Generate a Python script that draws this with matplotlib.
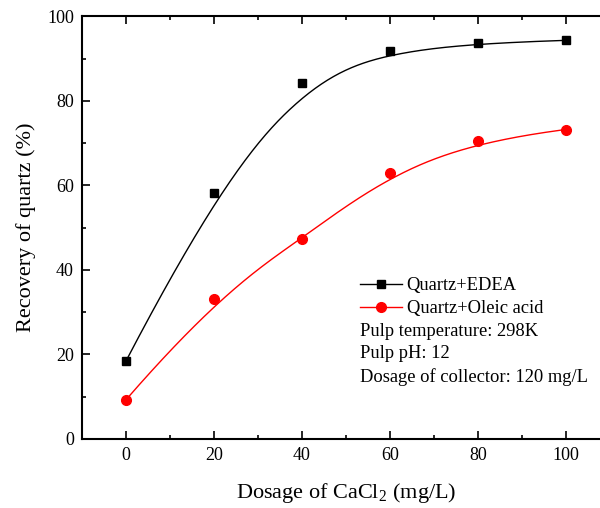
import numpy as np
import matplotlib
matplotlib.use('Agg')
import matplotlib.pyplot as plt
from matplotlib.ticker import MultipleLocator

plt.rcParams['font.family'] = ['Liberation Serif', 'DejaVu Serif']
plt.rcParams['mathtext.fontset'] = 'custom'
plt.rcParams['mathtext.rm'] = 'Liberation Serif'

dosage = [0, 20, 40, 60, 80, 100]
edea = [18.5, 58.3, 84.2, 91.8, 93.6, 94.3]
oleic = [9.3, 33.2, 47.3, 63.0, 70.5, 73.2]


## clamped cubic B-spline through the data points used as control points
def bspline(px, py, n=300, k=3):
    P = np.column_stack([px, py]).astype(float)
    m = len(P)
    inner = np.linspace(0, 1, m - k + 1)[1:-1]
    t = np.concatenate([np.zeros(k + 1), inner, np.ones(k + 1)])
    u = np.linspace(0, 1, n)
    u[-1] = 1 - 1e-9
    N = np.zeros((n, len(t) - 1))
    for i in range(len(t) - 1):
        N[:, i] = (t[i] <= u) & (u < t[i + 1])
    for d in range(1, k + 1):
        Nn = np.zeros((n, len(t) - 1 - d))
        for i in range(len(t) - 1 - d):
            a = 0.0
            if t[i + d] > t[i]:
                a = (u - t[i]) / (t[i + d] - t[i]) * N[:, i]
            b = 0.0
            if t[i + d + 1] > t[i + 1]:
                b = (t[i + d + 1] - u) / (t[i + d + 1] - t[i + 1]) * N[:, i + 1]
            Nn[:, i] = a + b
        N = Nn
    C = N @ P
    return C[:, 0], C[:, 1]


fig = plt.figure(figsize=(6, 5.08), dpi=100)
ax = fig.add_axes([0.137, 0.136, 0.879, 0.832])

bx, by = bspline(dosage, edea)
ax.plot(bx, by, color='black', lw=1)
rx, ry = bspline(dosage, oleic)
ax.plot(rx, ry, color='red', lw=1)
ax.plot(dosage, edea, 's', color='black', ms=6.3, lw=0)
ax.plot(dosage, oleic, 'o', color='red', ms=7, lw=0)

# legend handles
h1, = ax.plot([], [], '-s', color='black', ms=6.3, lw=1)
h2, = ax.plot([], [], '-o', color='red', ms=7, lw=1)
ax.legend([h1, h2], ['Quartz+EDEA', 'Quartz+Oleic acid'], loc='upper left',
          bbox_to_anchor=(0.527, 0.382), frameon=False, fontsize=13.3,
          handlelength=2.27, handletextpad=0.25, borderpad=0, labelspacing=0.3,
          borderaxespad=0)

notes = ['Pulp temperature: 298K', 'Pulp pH: 12', 'Dosage of collector: 120 mg/L']
note_y = [331, 354, 377]
for t, yy in zip(notes, note_y):
    fig.text(360 / 600, 1 - yy / 508, t, fontsize=13.3, va='center', ha='left')

ax.set_xlim(-10, 110)
ax.set_ylim(0, 100)
ax.xaxis.set_major_locator(MultipleLocator(20))
ax.xaxis.set_minor_locator(MultipleLocator(10))
ax.yaxis.set_major_locator(MultipleLocator(20))
ax.yaxis.set_minor_locator(MultipleLocator(10))
ax.tick_params(which='both', direction='in', top=True, right=True, labelsize=13, width=1.2, pad=6)
ax.tick_params(which='major', length=6)
ax.tick_params(which='minor', length=3)
for s in ax.spines.values():
    s.set_linewidth(1.5)

ax.set_xlabel(r'Dosage of CaCl$_\mathregular{2}$ (mg/L)', fontsize=16, labelpad=12)
ax.set_ylabel('Recovery of quartz (%)', fontsize=16, labelpad=8)

fig.savefig('out.png', dpi=100)
